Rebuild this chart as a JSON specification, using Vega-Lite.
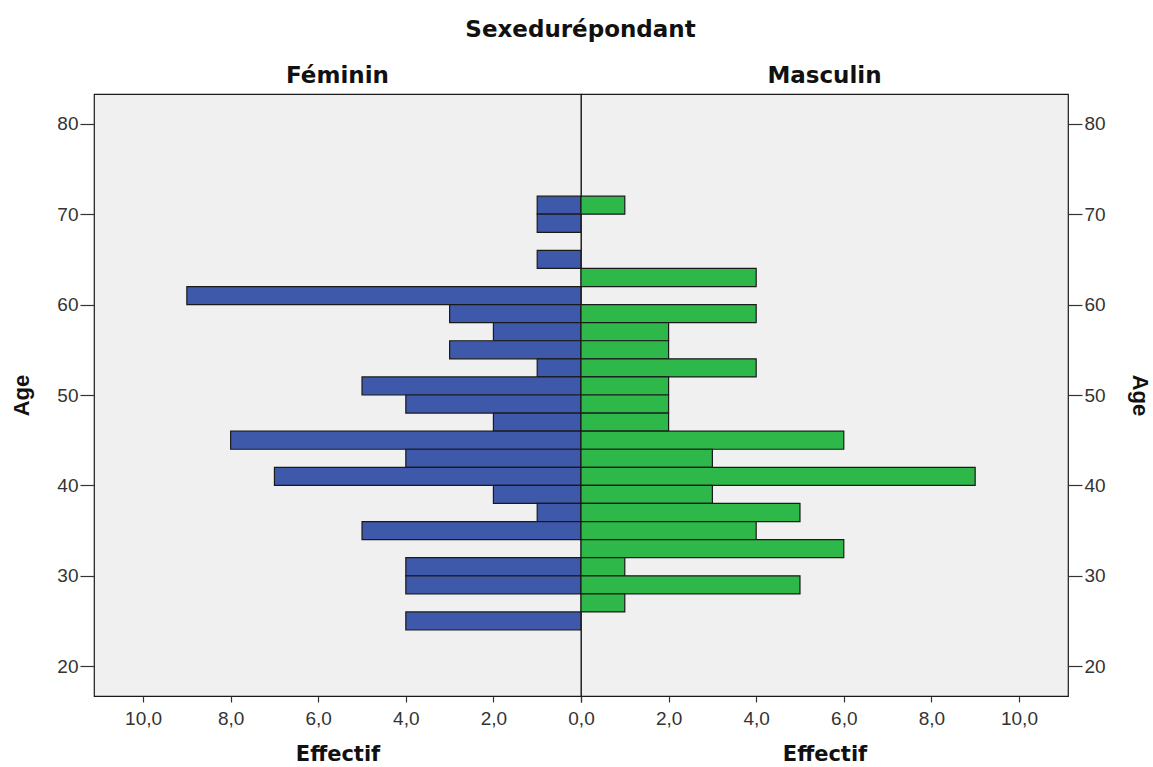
{
  "$schema": "https://vega.github.io/schema/vega-lite/v6.json",
  "background": "white",
  "padding": {"left": 10, "top": 19, "right": 5, "bottom": 2},
  "bounds": "flush",
  "config": {
    "font": "Liberation Sans",
    "view": {"fill": "#f0f0f0", "stroke": "#1a1a1a", "strokeWidth": 1.2},
    "concat": {"spacing": 0},
    "axis": {
      "labelFont": "Liberation Sans",
      "labelFontSize": 19,
      "labelColor": "#333333",
      "tickColor": "#333333",
      "tickWidth": 1.2,
      "domain": false,
      "grid": false,
      "labelFlush": false,
      "titleFont": "DejaVu Sans",
      "titleFontSize": 21,
      "titleFontWeight": "bold",
      "titleColor": "#111111"
    },
    "axisY": {
      "titleFont": "Liberation Sans",
      "titleFontSize": 22
    }
  },
  "title": {
    "text": "Sexedurépondant",
    "font": "DejaVu Sans",
    "fontSize": 23,
    "fontWeight": "bold",
    "color": "#111111",
    "anchor": "middle",
    "offset": 22
  },
  "data": {
    "values": [
      {"sexe": "Féminin", "lo": 70, "hi": 72, "n": 1},
      {"sexe": "Féminin", "lo": 68, "hi": 70, "n": 1},
      {"sexe": "Féminin", "lo": 64, "hi": 66, "n": 1},
      {"sexe": "Féminin", "lo": 60, "hi": 62, "n": 9},
      {"sexe": "Féminin", "lo": 58, "hi": 60, "n": 3},
      {"sexe": "Féminin", "lo": 56, "hi": 58, "n": 2},
      {"sexe": "Féminin", "lo": 54, "hi": 56, "n": 3},
      {"sexe": "Féminin", "lo": 52, "hi": 54, "n": 1},
      {"sexe": "Féminin", "lo": 50, "hi": 52, "n": 5},
      {"sexe": "Féminin", "lo": 48, "hi": 50, "n": 4},
      {"sexe": "Féminin", "lo": 46, "hi": 48, "n": 2},
      {"sexe": "Féminin", "lo": 44, "hi": 46, "n": 8},
      {"sexe": "Féminin", "lo": 42, "hi": 44, "n": 4},
      {"sexe": "Féminin", "lo": 40, "hi": 42, "n": 7},
      {"sexe": "Féminin", "lo": 38, "hi": 40, "n": 2},
      {"sexe": "Féminin", "lo": 36, "hi": 38, "n": 1},
      {"sexe": "Féminin", "lo": 34, "hi": 36, "n": 5},
      {"sexe": "Féminin", "lo": 30, "hi": 32, "n": 4},
      {"sexe": "Féminin", "lo": 28, "hi": 30, "n": 4},
      {"sexe": "Féminin", "lo": 24, "hi": 26, "n": 4},
      {"sexe": "Masculin", "lo": 70, "hi": 72, "n": 1},
      {"sexe": "Masculin", "lo": 62, "hi": 64, "n": 4},
      {"sexe": "Masculin", "lo": 58, "hi": 60, "n": 4},
      {"sexe": "Masculin", "lo": 56, "hi": 58, "n": 2},
      {"sexe": "Masculin", "lo": 54, "hi": 56, "n": 2},
      {"sexe": "Masculin", "lo": 52, "hi": 54, "n": 4},
      {"sexe": "Masculin", "lo": 50, "hi": 52, "n": 2},
      {"sexe": "Masculin", "lo": 48, "hi": 50, "n": 2},
      {"sexe": "Masculin", "lo": 46, "hi": 48, "n": 2},
      {"sexe": "Masculin", "lo": 44, "hi": 46, "n": 6},
      {"sexe": "Masculin", "lo": 42, "hi": 44, "n": 3},
      {"sexe": "Masculin", "lo": 40, "hi": 42, "n": 9},
      {"sexe": "Masculin", "lo": 38, "hi": 40, "n": 3},
      {"sexe": "Masculin", "lo": 36, "hi": 38, "n": 5},
      {"sexe": "Masculin", "lo": 34, "hi": 36, "n": 4},
      {"sexe": "Masculin", "lo": 32, "hi": 34, "n": 6},
      {"sexe": "Masculin", "lo": 30, "hi": 32, "n": 1},
      {"sexe": "Masculin", "lo": 28, "hi": 30, "n": 5},
      {"sexe": "Masculin", "lo": 26, "hi": 28, "n": 1}
    ]
  },
  "hconcat": [
    {
      "width": 487,
      "height": 602,
      "title": {"text": "Féminin", "font": "DejaVu Sans", "fontSize": 23, "fontWeight": "bold", "color": "#111111", "offset": 6},
      "transform": [{"filter": "datum.sexe == 'Féminin'"}],
      "mark": {"type": "rect", "fill": "#3e58aa", "stroke": "#1a1a1a", "strokeWidth": 1.2},
      "encoding": {
        "x": {
          "field": "n", "type": "quantitative",
          "scale": {"domain": [0, 11.12], "reverse": true, "nice": false, "zero": true},
          "axis": {"values": [0, 2, 4, 6, 8, 10], "labelExpr": "datum.value == 0 ? '' : replace(format(datum.value, '.1f'), '.', ',')", "title": "Effectif", "tickSize": 6, "labelPadding": 7, "titlePadding": 15}
        },
        "x2": {"datum": 0},
        "y": {
          "field": "lo", "type": "quantitative",
          "scale": {"domain": [16.7, 83.3], "nice": false, "zero": false},
          "axis": {"values": [20, 30, 40, 50, 60, 70, 80], "title": "Age", "orient": "left", "tickSize": 14, "labelPadding": 2, "titlePadding": 23}
        },
        "y2": {"field": "hi"}
      }
    },
    {
      "width": 487,
      "height": 602,
      "title": {"text": "Masculin", "font": "DejaVu Sans", "fontSize": 23, "fontWeight": "bold", "color": "#111111", "offset": 6},
      "transform": [{"filter": "datum.sexe == 'Masculin'"}],
      "mark": {"type": "rect", "fill": "#2eb84a", "stroke": "#1a1a1a", "strokeWidth": 1.2},
      "encoding": {
        "x": {
          "field": "n", "type": "quantitative",
          "scale": {"domain": [0, 11.12], "nice": false, "zero": true},
          "axis": {"values": [0, 2, 4, 6, 8, 10], "labelExpr": "replace(format(datum.value, '.1f'), '.', ',')", "title": "Effectif", "tickSize": 6, "labelPadding": 7, "titlePadding": 15}
        },
        "x2": {"datum": 0},
        "y": {
          "field": "lo", "type": "quantitative",
          "scale": {"domain": [16.7, 83.3], "nice": false, "zero": false},
          "axis": {"values": [20, 30, 40, 50, 60, 70, 80], "title": "Age", "orient": "right", "tickSize": 14, "labelPadding": 2, "titlePadding": 22}
        },
        "y2": {"field": "hi"}
      }
    }
  ]
}
